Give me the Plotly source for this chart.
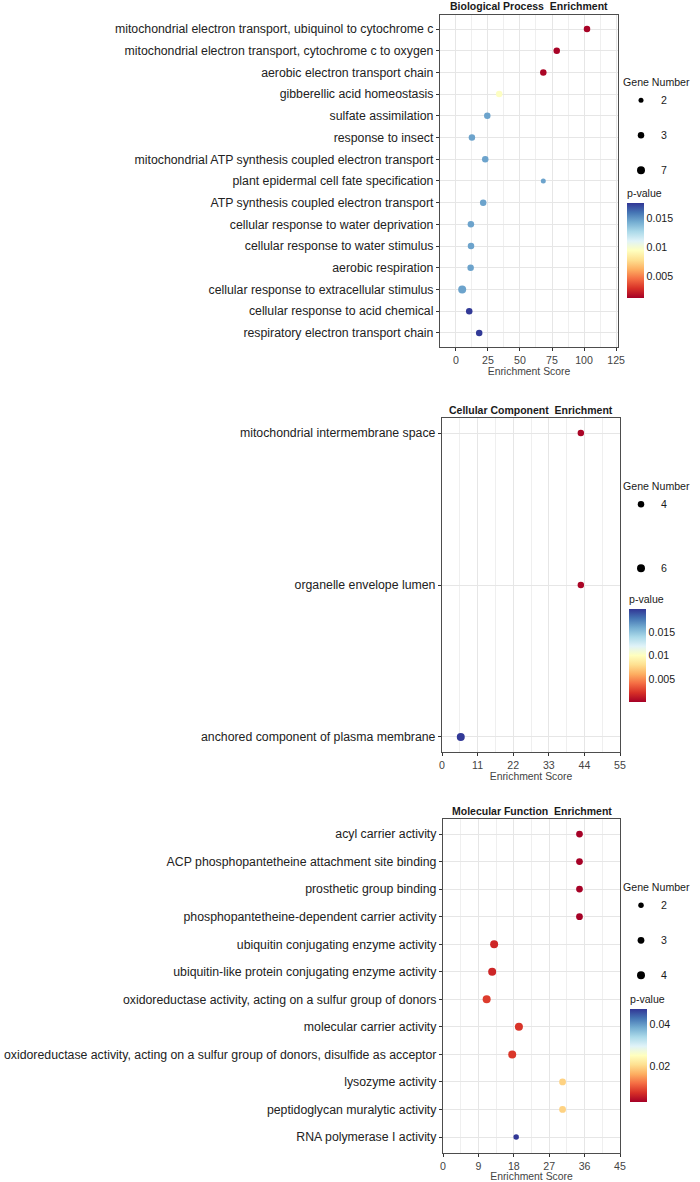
import plotly.graph_objects as go

W, H = 700, 1182

# ---------------- data ----------------
bp_terms = [
    "mitochondrial electron transport, ubiquinol to cytochrome c",
    "mitochondrial electron transport, cytochrome c to oxygen",
    "aerobic electron transport chain",
    "gibberellic acid homeostasis",
    "sulfate assimilation",
    "response to insect",
    "mitochondrial ATP synthesis coupled electron transport",
    "plant epidermal cell fate specification",
    "ATP synthesis coupled electron transport",
    "cellular response to water deprivation",
    "cellular response to water stimulus",
    "aerobic respiration",
    "cellular response to extracellular stimulus",
    "cellular response to acid chemical",
    "respiratory electron transport chain",
]
bp_score = [102.3, 78.7, 68.2, 33.8, 24.5, 12.5, 22.9, 68.2, 21.3, 11.7, 11.8, 11.5, 4.9, 10.4, 18.2]
bp_pvalue = [0.0013, 0.0013, 0.0014, 0.0095, 0.0146, 0.0146, 0.0146, 0.0146, 0.0146,
             0.0146, 0.0146, 0.0146, 0.0146, 0.0175, 0.0175]
bp_genes = [3, 3, 3, 3, 3, 3, 3, 2, 3, 3, 3, 3, 7, 3, 3]

cc_terms = [
    "mitochondrial intermembrane space",
    "organelle envelope lumen",
    "anchored component of plasma membrane",
]
cc_score = [42.9, 42.9, 5.8]
cc_pvalue = [0.0003, 0.0003, 0.0198]
cc_genes = [4, 4, 6]

mf_terms = [
    "acyl carrier activity",
    "ACP phosphopantetheine attachment site binding",
    "prosthetic group binding",
    "phosphopantetheine-dependent carrier activity",
    "ubiquitin conjugating enzyme activity",
    "ubiquitin-like protein conjugating enzyme activity",
    "oxidoreductase activity, acting on a sulfur group of donors",
    "molecular carrier activity",
    "oxidoreductase activity, acting on a sulfur group of donors, disulfide as acceptor",
    "lysozyme activity",
    "peptidoglycan muralytic activity",
    "RNA polymerase I activity",
]
mf_score = [34.7, 34.7, 34.7, 34.7, 13.0, 12.5, 11.1, 19.3, 17.6, 30.4, 30.4, 18.6]
mf_pvalue = [0.0030, 0.0030, 0.0030, 0.0030, 0.0064, 0.0064, 0.0082, 0.0076, 0.0078,
             0.0193, 0.0193, 0.0470]
mf_genes = [3, 3, 3, 3, 4, 4, 4, 4, 4, 3, 3, 2]

bp_ticks = [0.005, 0.01, 0.015]
cc_ticks = [0.005, 0.01, 0.015]
mf_ticks = [0.02, 0.04]

RDYLBU = [[0.0, "#a50026"], [0.1, "#d73027"], [0.2, "#f46d43"], [0.3, "#fdae61"],
          [0.4, "#fee090"], [0.5, "#ffffbf"], [0.6, "#e0f3f8"], [0.7, "#abd9e9"],
          [0.8, "#74add1"], [0.9, "#4575b4"], [1.0, "#313695"]]

FONT = "Liberation Sans, Arial, Helvetica, sans-serif"

# ---------------- layout config (pixels) ----------------
panels = [
    dict(terms=bp_terms, score=bp_score, p=bp_pvalue, genes=bp_genes, ticks=bp_ticks,
         title="Biological Process\u00a0 Enrichment",
         box=(440, 618, 15, 347), xrange=[-12.4, 126.5], dtick=25, minor=12.5,
         yrange=[14.65, -0.645], crange=(0.0012, 0.0176), dsize=(5.0, 8.0),
         cbar=(627, 203, 298), leg=79, gap=16, title_y=6),
    dict(terms=cc_terms, score=cc_score, p=cc_pvalue, genes=cc_genes, ticks=cc_ticks,
         title="Cellular Component\u00a0 Enrichment",
         box=(442, 620, 418, 752), xrange=[0, 55], dtick=11, minor=5.5,
         yrange=[2.099, -0.099], crange=(0.0001, 0.0199), dsize=(6.5, 8.0),
         cbar=(629, 609, 702), leg=483, gap=45, title_y=410),
    dict(terms=mf_terms, score=mf_score, p=mf_pvalue, genes=mf_genes, ticks=mf_ticks,
         title="Molecular Function\u00a0 Enrichment",
         box=(443, 620, 819, 1153), xrange=[0, 45], dtick=9, minor=4.5,
         yrange=[11.58, -0.545], crange=(0.0029, 0.0471), dsize=(5.5, 8.0),
         cbar=(630, 1009, 1102), leg=884, gap=16, title_y=811),
]

CB_TITLE_H = 17  # room taken by the colorbar title inside its length

fig = go.Figure()
layout = dict(width=W, height=H, margin=dict(l=0, r=0, t=0, b=0),
              paper_bgcolor="white", plot_bgcolor="white",
              font=dict(family=FONT, color="#1a1a1a"), annotations=[])

for i, pn in enumerate(panels, start=1):
    sfx = "" if i == 1 else str(i)
    xa, ya = "x" + sfx, "y" + sfx
    legname = "legend" + sfx
    x0, x1, y0, y1 = pn["box"]
    levels = sorted(set(pn["genes"]))
    dmin, dmax = pn["dsize"]
    step = (dmax - dmin) / max(len(levels) - 1, 1)
    size_of = {lv: dmin + step * k for k, lv in enumerate(levels)}
    cb_x, cb_top, cb_bot = pn["cbar"]

    fig.add_trace(go.Scatter(
        x=pn["score"], y=pn["terms"], mode="markers", xaxis=xa, yaxis=ya,
        showlegend=False,
        marker=dict(size=[size_of[g] for g in pn["genes"]], color=pn["p"],
                    colorscale=RDYLBU, cmin=pn["crange"][0], cmax=pn["crange"][1],
                    line=dict(width=0), opacity=1,
                    showscale=True,
                    colorbar=dict(
                        x=cb_x / W, xanchor="left", xpad=0, ypad=0,
                        y=1 - cb_bot / H, yanchor="bottom",
                        len=cb_bot - cb_top + CB_TITLE_H, lenmode="pixels",
                        thickness=17, thicknessmode="pixels",
                        outlinewidth=0, ticks="",
                        tickvals=pn["ticks"], ticktext=[f"{t:g}" for t in pn["ticks"]],
                        tickfont=dict(size=10.6, color="#1a1a1a", family=FONT),
                        title=dict(text="p-value", side="top",
                                   font=dict(size=10.6, color="#1a1a1a", family=FONT)),
                    )),
        hovertemplate="%{y}<br>Score %{x}<br>p %{marker.color}<extra></extra>",
    ))
    for lv in levels:
        fig.add_trace(go.Scatter(
            x=[None], y=[None], mode="markers", xaxis=xa, yaxis=ya,
            name=str(lv), legend=legname, legendgroup=f"g{i}_{lv}",
            marker=dict(size=size_of[lv], color="black", line=dict(width=0)),
            showlegend=True,
        ))

    layout["xaxis" + sfx] = dict(
        domain=[x0 / W, x1 / W], anchor=ya, range=pn["xrange"],
        tick0=0, dtick=pn["dtick"], ticks="outside", ticklen=3, tickcolor="#333333",
        tickwidth=1, showline=True, mirror=True, linecolor="#4d4d4d", linewidth=1.2,
        showgrid=True, gridcolor="#e6e6e6", gridwidth=0.8, zeroline=False,
        minor=dict(dtick=pn["minor"], tick0=0, showgrid=True, gridcolor="#efefef", gridwidth=0.6),
        tickfont=dict(size=10.6, color="#444444", family=FONT),
        title=dict(text="Enrichment Score", standoff=2,
                   font=dict(size=10.4, color="#444444", family=FONT)),
        automargin=False, fixedrange=True,
    )
    layout["yaxis" + sfx] = dict(
        domain=[1 - y1 / H, 1 - y0 / H], anchor=xa, type="category",
        categoryorder="array", categoryarray=pn["terms"], range=pn["yrange"],
        ticks="outside", ticklen=3, tickcolor="#333333", tickwidth=1,
        showline=True, mirror=True, linecolor="#4d4d4d", linewidth=1.2,
        showgrid=True, gridcolor="#e6e6e6", gridwidth=0.8, zeroline=False,
        tickfont=dict(size=12.3, color="#222222", family=FONT),
        automargin=False, fixedrange=True,
    )
    layout[legname] = dict(
        x=621 / W, xanchor="left", y=1 - (pn["leg"] - 7) / H, yanchor="top",
        title=dict(text="Gene Number", font=dict(size=10.6, color="#1a1a1a", family=FONT)),
        font=dict(size=10.6, color="#1a1a1a", family=FONT),
        itemsizing="trace", tracegroupgap=pn["gap"], bgcolor="rgba(0,0,0,0)",
        borderwidth=0, traceorder="grouped",
    )
    layout["annotations"].append(dict(
        text=f"<b>{pn['title']}</b>", xref="paper", yref="paper",
        x=(x0 + x1) / 2 / W, y=1 - pn["title_y"] / H, xanchor="center", yanchor="middle",
        showarrow=False, font=dict(size=10.5, color="#1a1a1a", family=FONT),
    ))

fig.update_layout(**layout)
fig.write_html("out.html")
